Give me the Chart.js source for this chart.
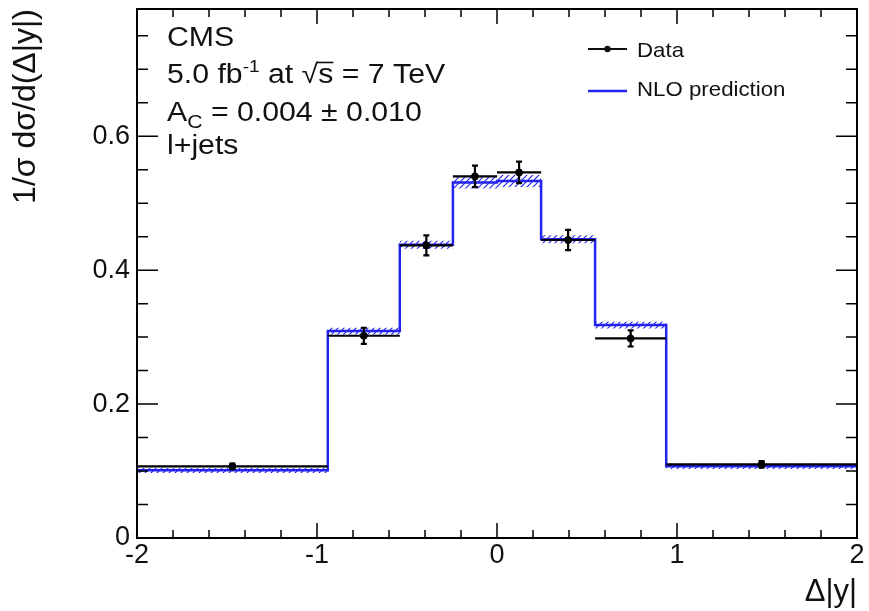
<!DOCTYPE html>
<html>
<head>
<meta charset="utf-8">
<script src="https://cdn.jsdelivr.net/npm/chart.js@4.4.0/dist/chart.umd.min.js"></script>
<style>
  html, body { margin: 0; padding: 0; background: #fff; }
  #wrap { width: 869px; height: 611px; }
</style>
</head>
<body>
<div id="wrap"><canvas id="chart" width="869" height="611"></canvas></div>
<script>
// bins in delta|y|
const binEdges = [-2, -0.94, -0.54, -0.245, 0, 0.245, 0.545, 0.94, 2];
// unfolded data and its uncertainty
const dataValues = [0.107, 0.302, 0.437, 0.540, 0.546, 0.445, 0.298, 0.110];
const dataErrors = [0.004, 0.012, 0.015, 0.016, 0.016, 0.015, 0.012, 0.005];
// NLO prediction and its band
const nloValues = [0.101, 0.309, 0.438, 0.531, 0.533, 0.446, 0.318, 0.107];
const nloErrors = [0.004, 0.005, 0.006, 0.009, 0.009, 0.006, 0.005, 0.004];
const xTicks = [-2, -1, 0, 1, 2];
const yTicks = [0, 0.2, 0.4, 0.6];

const FONT = "'Liberation Sans', Arial, Helvetica, sans-serif";
const BLUE = '#2323ee';

const binCenters = binEdges.slice(0, -1).map((e, i) => (e + binEdges[i + 1]) / 2);

// stepped points: one per bin edge, last value repeated at the right edge
function stepPoints(vals) {
    const pts = vals.map((v, i) => ({ x: binEdges[i], y: v }));
    pts.push({ x: binEdges[binEdges.length - 1], y: vals[vals.length - 1] });
    return pts;
}

function hatchPattern(ctx) {
    const c = document.createElement('canvas');
    c.width = 6;
    c.height = 6;
    const g = c.getContext('2d');
    g.strokeStyle = BLUE;
    g.lineWidth = 1.1;
    g.beginPath();
    g.moveTo(0, 6); g.lineTo(6, 0);
    g.moveTo(-1, 1); g.lineTo(1, -1);
    g.moveTo(5, 7); g.lineTo(7, 5);
    g.stroke();
    return ctx.createPattern(c, 'repeat');
}

const frameAndTicks = {
    id: 'frameAndTicks',
    afterDatasetsDraw(chart) {
        const { ctx, chartArea: a, scales: { x, y } } = chart;
        ctx.save();
        ctx.strokeStyle = '#000';
        ctx.lineWidth = 1.5;
        ctx.beginPath();
        // x ticks every 0.2, major every 1
        for (let i = 0; i <= 20; i++) {
            const px = x.getPixelForValue(-2 + i * 0.2);
            const len = i % 5 === 0 ? 15 : 8;
            ctx.moveTo(px, a.bottom); ctx.lineTo(px, a.bottom - len);
            ctx.moveTo(px, a.top); ctx.lineTo(px, a.top + len);
        }
        // y ticks every 0.05, major every 0.2
        for (let i = 0; i <= 15; i++) {
            const py = y.getPixelForValue(i * 0.05);
            const len = i % 4 === 0 ? 21 : 11;
            ctx.moveTo(a.left, py); ctx.lineTo(a.left + len, py);
            ctx.moveTo(a.right, py); ctx.lineTo(a.right - len, py);
        }
        ctx.stroke();

        // data: horizontal bin bars and vertical error bars
        ctx.lineWidth = 2.2;
        ctx.beginPath();
        dataValues.forEach((v, i) => {
            const py = y.getPixelForValue(v);
            const cx = x.getPixelForValue(binCenters[i]);
            ctx.moveTo(x.getPixelForValue(binEdges[i]), py);
            ctx.lineTo(x.getPixelForValue(binEdges[i + 1]), py);
            const top = y.getPixelForValue(v + dataErrors[i]);
            const bot = y.getPixelForValue(v - dataErrors[i]);
            ctx.moveTo(cx, top); ctx.lineTo(cx, bot);
            ctx.moveTo(cx - 3, top); ctx.lineTo(cx + 3, top);
            ctx.moveTo(cx - 3, bot); ctx.lineTo(cx + 3, bot);
        });
        ctx.stroke();

        ctx.lineWidth = 2;
        ctx.strokeRect(a.left, a.top, a.width, a.height);
        ctx.restore();
    }
};

// text runs drawn with a slight horizontal stretch, like the original font
function drawRuns(ctx, x, y, runs, stretch) {
    ctx.save();
    ctx.translate(x, y);
    ctx.scale(stretch, 1);
    let cx = 0;
    runs.forEach(r => {
        ctx.font = r.size + 'px ' + FONT;
        ctx.fillText(r.t, cx, r.dy || 0);
        const w = ctx.measureText(r.t).width;
        if (r.over) {
            ctx.lineWidth = 1.6;
            ctx.beginPath();
            ctx.moveTo(cx - 1, -r.size * 0.76);
            ctx.lineTo(cx + w, -r.size * 0.76);
            ctx.stroke();
        }
        cx += w;
    });
    ctx.restore();
}

const labels = {
    id: 'labels',
    afterDraw(chart) {
        const ctx = chart.ctx;
        ctx.save();
        ctx.fillStyle = '#111';
        ctx.strokeStyle = '#111';
        ctx.textBaseline = 'alphabetic';
        ctx.textAlign = 'left';
        const s = 27;
        const k = 1.12;
        drawRuns(ctx, 167, 46, [{ t: 'CMS', size: s }], k);
        drawRuns(ctx, 167, 83, [
            { t: '5.0 fb', size: s },
            { t: '-1', size: 17, dy: -11 },
            { t: ' at ', size: s },
            { t: '\u221A', size: s },
            { t: 's', size: s, over: true },
            { t: ' = 7 TeV', size: s }
        ], k);
        drawRuns(ctx, 167, 121, [
            { t: 'A', size: s },
            { t: 'C', size: 19, dy: 7 },
            { t: ' = 0.004 \u00B1 0.010', size: s }
        ], k);
        drawRuns(ctx, 167, 154, [{ t: 'l+jets', size: s }], k);

        // legend
        ctx.lineWidth = 2;
        ctx.beginPath();
        ctx.moveTo(588, 49); ctx.lineTo(627, 49);
        ctx.stroke();
        ctx.beginPath();
        ctx.arc(607.5, 49, 3.2, 0, Math.PI * 2);
        ctx.fill();
        ctx.strokeStyle = BLUE;
        ctx.lineWidth = 2.5;
        ctx.beginPath();
        ctx.moveTo(588, 91); ctx.lineTo(627, 91);
        ctx.stroke();
        ctx.fillStyle = '#111';
        drawRuns(ctx, 637, 57, [{ t: 'Data', size: 21 }], 1.06);
        drawRuns(ctx, 637, 96, [{ t: 'NLO prediction', size: 21 }], 1.06);
        ctx.restore();
    }
};

const ctx = document.getElementById('chart').getContext('2d');
const hatch = hatchPattern(ctx);

const chart = new Chart(ctx, {
    type: 'scatter',
    data: {
        datasets: [
            {
                label: 'Data',
                data: binCenters.map((c, i) => ({ x: c, y: dataValues[i] })),
                showLine: false,
                pointRadius: 3.5,
                pointBackgroundColor: '#000',
                pointBorderColor: '#000',
                order: 0,
            },
            {
                label: 'NLO prediction',
                data: stepPoints(nloValues),
                showLine: true,
                stepped: 'before',
                borderColor: BLUE,
                borderWidth: 2.5,
                pointRadius: 0,
                fill: false,
                order: 1,
            },
            {
                label: 'band up',
                data: stepPoints(nloValues.map((v, i) => v + nloErrors[i])),
                showLine: true,
                stepped: 'before',
                borderWidth: 0,
                borderColor: 'rgba(0,0,0,0)',
                pointRadius: 0,
                fill: false,
                order: 2,
            },
            {
                label: 'band down',
                data: stepPoints(nloValues.map((v, i) => v - nloErrors[i])),
                showLine: true,
                stepped: 'before',
                borderWidth: 0,
                borderColor: 'rgba(0,0,0,0)',
                backgroundColor: hatch,
                pointRadius: 0,
                fill: '-1',
                order: 3,
            },
        ],
    },
    options: {
        responsive: false,
        animation: false,
        layout: { padding: { top: 9, right: 12, left: 0, bottom: 0 } },
        plugins: {
            legend: { display: false },
            tooltip: { enabled: false },
        },
        scales: {
            x: {
                type: 'linear',
                min: -2,
                max: 2,
                grid: { display: false, drawTicks: false },
                border: { display: false },
                afterBuildTicks: (s) => { s.ticks = xTicks.map(v => ({ value: v })); },
                afterFit: (s) => { s.height = 73; s.paddingLeft = 0; s.paddingRight = 0; },
                ticks: {
                    padding: 4,
                    color: '#111',
                    font: { family: FONT, size: 27, lineHeight: 1 },
                    callback: (v) => String(v),
                },
                title: {
                    display: true,
                    text: '\u0394|y|',
                    align: 'end',
                    color: '#111',
                    padding: { top: 0, bottom: 3 },
                    font: { family: FONT, size: 31, lineHeight: 1 },
                },
            },
            y: {
                type: 'linear',
                min: 0,
                max: 0.79,
                grid: { display: false, drawTicks: false },
                border: { display: false },
                afterBuildTicks: (s) => { s.ticks = yTicks.map(v => ({ value: v })); },
                afterFit: (s) => { s.width = 137; s.paddingTop = 0; s.paddingBottom = 0; },
                ticks: {
                    padding: 7,
                    color: '#111',
                    font: { family: FONT, size: 27, lineHeight: 1 },
                    callback: (v) => String(v),
                },
                title: {
                    display: true,
                    text: '1/\u03C3 d\u03C3/d(\u0394|y|)',
                    align: 'end',
                    color: '#111',
                    padding: { top: 10, bottom: 0 },
                    font: { family: FONT, size: 32, lineHeight: 1 },
                },
            },
        },
    },
    plugins: [frameAndTicks, labels],
});
</script>
</body>
</html>
